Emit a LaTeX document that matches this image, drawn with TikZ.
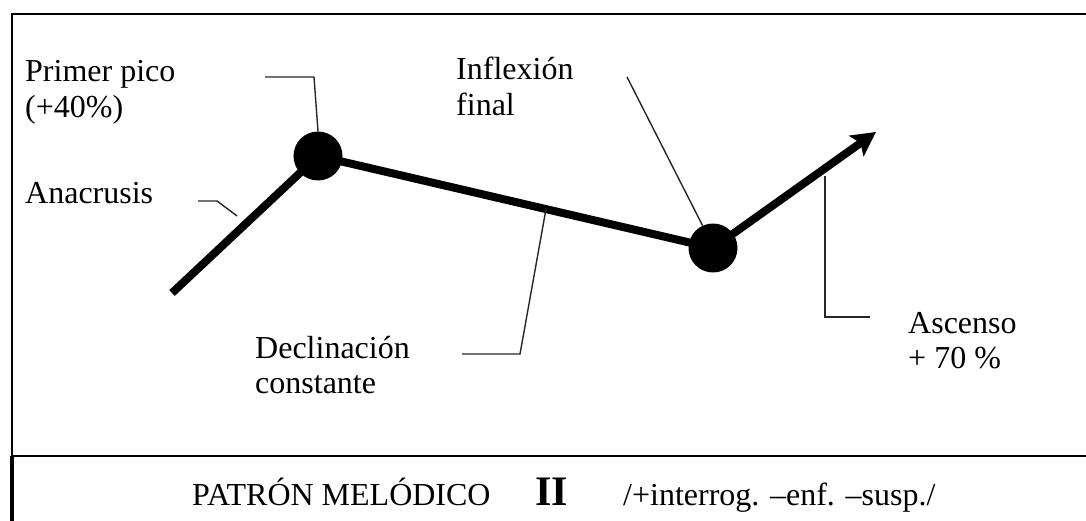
\documentclass[tikz,border=0pt]{standalone}
\usepackage{fontspec}
\setmainfont{Liberation Serif}
\usetikzlibrary{arrows.meta}

\begin{document}
\begin{tikzpicture}[x=1pt, y=-1pt,
	etiqueta/.style={font=\fontsize{32}{35}\selectfont, anchor=base west, inner sep=0pt},
	guia/.style={line width=1.4pt, black!85},
	trazo/.style={line width=8pt},
	punto/.style={circle, fill=black, minimum size=49pt, inner sep=0pt}]
%	1pt = 1px の座標, y は下向き
	\useasboundingbox (0, 0) rectangle (1086, 521);
	\draw[line width=2.5pt](12, 456)-- (12, 14)-- (1086, 14); %外枠(上・左)
	\draw[line width=3.5pt](12, 456)-- (12, 521); %外枠(左下)
	\draw[line width=2.5pt](12, 456)-- (1086, 456); %下の仕切り線

	\node[punto] (pico) at (318, 156) {}; %第一のピーク
	\node[punto] (inflexion) at (713, 248) {}; %最後の屈折
	\coordinate (inicio) at (172, 293); %アナクルシスの始まり
	\coordinate (punta) at (876, 132); %上昇の矢の先
	\draw[trazo](inicio)-- (pico.center)-- (inflexion.center); %旋律線
	\draw[trazo, -{Stealth[length=24pt, width=25pt, inset=5pt]}](inflexion.center)-- (punta); %上昇

	\node[etiqueta] (primer) at (25, 82) {Primer pico};
	\node[etiqueta] (cuarenta) at (25, 118) {(+40\%)};
	\node[etiqueta] (anacrusis) at (25, 204) {Anacrusis};
	\node[etiqueta] (inflexion1) at (456, 80) {Inflexión};
	\node[etiqueta] (inflexion2) at (456, 116) {final};
	\node[etiqueta] (declinacion1) at (255, 358) {Declinación};
	\node[etiqueta] (declinacion2) at (255, 393) {constante};
	\node[etiqueta] (ascenso1) at (908, 333) {Ascenso};
	\node[etiqueta] (ascenso2) at (908, 368) {+ 70 \%};

	\coordinate (g1a) at (265, 77); \coordinate (g1b) at (314, 77);
	\draw[guia](g1a)-- (g1b)-- (pico.north); %第一ピークの引出線
	\coordinate (g2a) at (198, 201); \coordinate (g2b) at (217, 201); \coordinate (g2c) at (237, 216);
	\draw[guia](g2a)-- (g2b)-- (g2c); %アナクルシスの引出線
	\coordinate (g3a) at (627, 77);
	\draw[guia](g3a)-- (inflexion.115); %屈折の引出線
	\coordinate (g4a) at (462, 354); \coordinate (g4b) at (520, 354); \coordinate (g4c) at (546, 209);
	\draw[guia](g4a)-- (g4b)-- (g4c); %下降の引出線
	\coordinate (g5a) at (825, 176); \coordinate (g5b) at (825, 317); \coordinate (g5c) at (870, 317);
	\draw[guia](g5a)-- (g5b)-- (g5c); %上昇の引出線

	\node[etiqueta] (patron) at (192, 505) {PATRÓN MELÓDICO};
	\node[etiqueta, font=\fontsize{42}{42}\selectfont\bfseries] (numero) at (535, 505) {II};
	\node[etiqueta] (rasgos) at (623, 505) {/+interrog. –enf. –susp./};
\end{tikzpicture}
\end{document}
